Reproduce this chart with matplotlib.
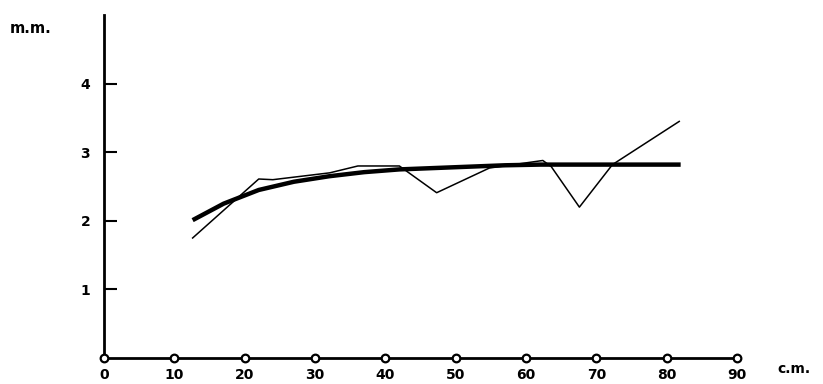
import numpy as np
import matplotlib
matplotlib.use("Agg")
import matplotlib.pyplot as plt

# measured values (thin line) and fitted curve (thick line)
meas_x = [12.6, 22.0, 24.0, 32.1, 36.1, 42.0, 47.3, 54.8, 62.4, 63.6, 67.6, 72.3, 81.8]
meas_y = [1.75, 2.61, 2.60, 2.70, 2.80, 2.80, 2.41, 2.77, 2.88, 2.79, 2.20, 2.82, 3.45]

fit_x = [12.6, 17.0, 22.0, 27.0, 32.0, 37.0, 42.0, 47.0, 52.0, 57.0, 62.0, 72.0, 82.0]
fit_y = [2.01, 2.25, 2.45, 2.57, 2.65, 2.71, 2.75, 2.77, 2.79, 2.81, 2.82, 2.82, 2.82]

xticks = [0, 10, 20, 30, 40, 50, 60, 70, 80, 90]
yticks = [1, 2, 3, 4]

fig = plt.figure(figsize=(8.23, 3.84), dpi=100)
ax = fig.add_axes([0.1264, 0.0677, 0.769, 0.893])
ax.set_xlim(0, 90)
ax.set_ylim(0, 5)

ax.plot(fit_x, fit_y, color='black', lw=3.2, solid_capstyle='butt')
ax.plot(meas_x, meas_y, color='black', lw=1.1)

# circles on the x axis
ax.plot(xticks, [0]*len(xticks), 'o', ms=5.5, mfc='white', mec='black', mew=1.6,
        clip_on=False, zorder=5)

for s in ['top', 'right']:
    ax.spines[s].set_visible(False)
ax.spines['left'].set_linewidth(2)
ax.spines['bottom'].set_linewidth(2)

ax.set_xticks(xticks)
ax.set_xticklabels([str(t) for t in xticks], fontsize=10, fontweight='bold')
ax.tick_params(axis='x', length=0, pad=7)
ax.set_yticks(yticks)
ax.set_yticklabels([str(t) for t in yticks], fontsize=10, fontweight='bold')
ax.tick_params(axis='y', direction='in', length=9, width=1.5, pad=10)

fig.text(0.012, 0.925, 'm.m.', fontsize=10.5, fontweight='bold', ha='left', va='center')
fig.text(0.945, 0.038, 'c.m.', fontsize=10, fontweight='bold', ha='left', va='center')

fig.savefig('out.png', dpi=100)
